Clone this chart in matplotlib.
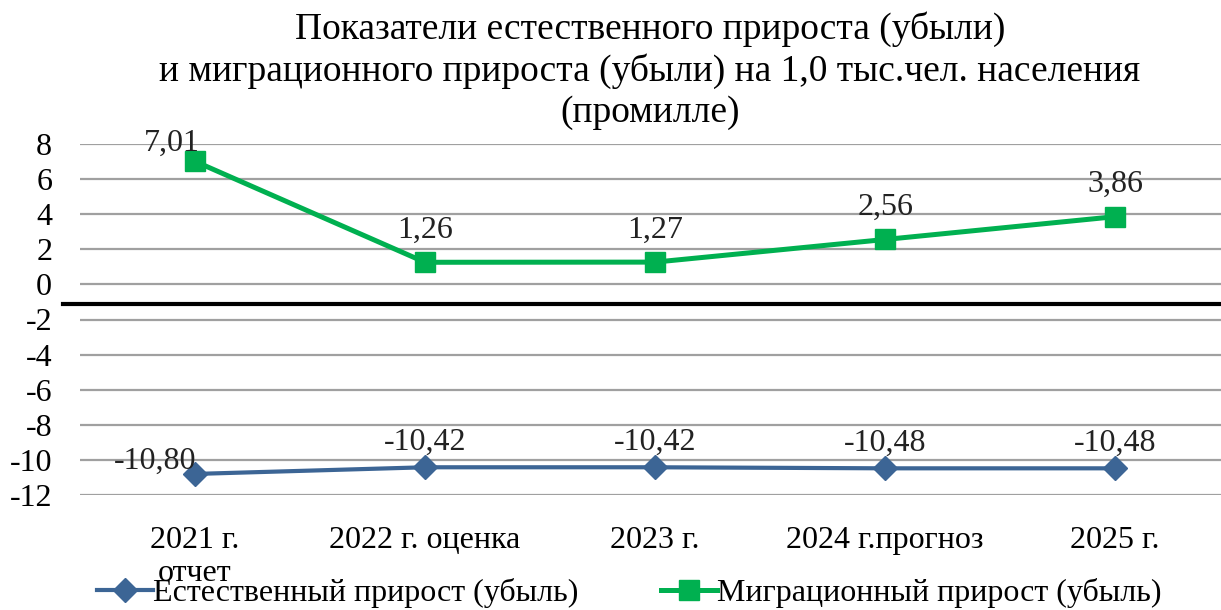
import matplotlib.pyplot as plt

categories = ['2021 г.\nотчет', '2022 г. оценка', '2023 г.', '2024 г.прогноз', '2025 г.']
natural = [-10.80, -10.42, -10.42, -10.48, -10.48]
migration = [7.01, 1.26, 1.27, 2.56, 3.86]
natural_labels = ['-10,80', '-10,42', '-10,42', '-10,48', '-10,48']
migration_labels = ['7,01', '1,26', '1,27', '2,56', '3,86']
yticks = [-12, -10, -8, -6, -4, -2, 0, 2, 4, 6, 8]

plt.rcParams['font.family'] = ['Liberation Serif', 'DejaVu Serif']
fs = 23

fig = plt.figure(figsize=(12.21, 6.10), dpi=100)
ax = fig.add_axes([80 / 1221, 1 - 495 / 610, 1 - 80 / 1221, 351 / 610])

x = list(range(len(categories)))
ax.plot(x, natural, color='#3c6595', lw=3, marker='D', ms=12, zorder=3,
        label='Естественный прирост (убыль)')
ax.plot(x, migration, color='#00b050', lw=3.6, marker='s', ms=14, zorder=3,
        label='Миграционный прирост (убыль)')

for i, (v, t) in enumerate(zip(natural, natural_labels)):
    off = (-29, 9) if i == 0 else (0, 18)
    ax.annotate(t, (i, v), xytext=off, textcoords='offset points',
                ha='center', va='center', fontsize=fs, color='#222222')
for i, (v, t) in enumerate(zip(migration, migration_labels)):
    off = (-17, 13) if i == 0 else (0, 23)
    ax.annotate(t, (i, v), xytext=off, textcoords='offset points',
                ha='center', va='center', fontsize=fs, color='#222222')

ax.set_ylim(-12, 8)
ax.set_xlim(-0.5, 4.46)
ax.set_yticks(yticks)
ax.set_yticklabels([str(t) for t in yticks], fontsize=fs)
ax.set_xticks(x)
ax.set_xticklabels(categories, fontsize=fs, linespacing=1.2)
ax.tick_params(length=0)
ax.tick_params(axis='y', pad=20)
ax.tick_params(axis='x', pad=22)
ax.grid(axis='y', color='#a0a0a0', lw=1.6)
ax.set_axisbelow(True)
for s in ax.spines.values():
    s.set_visible(False)
ax.axhline(-1.1, color='black', lw=3, xmin=-0.015, clip_on=False, zorder=2)

fig.suptitle('Показатели естественного прироста (убыли)\n'
             'и миграционного прироста (убыли) на 1,0 тыс.чел. населения\n'
             '(промилле)', x=650 / 1221, y=0.982, fontsize=27, linespacing=1.25)

fig.legend(loc='center left', bbox_to_anchor=(97 / 1221, 1 - 593 / 610), ncol=2,
           frameon=False, fontsize=fs, handlelength=1.75, handletextpad=0.0,
           columnspacing=2.6, borderpad=0, borderaxespad=0)

fig.savefig('out.png', dpi=100)
